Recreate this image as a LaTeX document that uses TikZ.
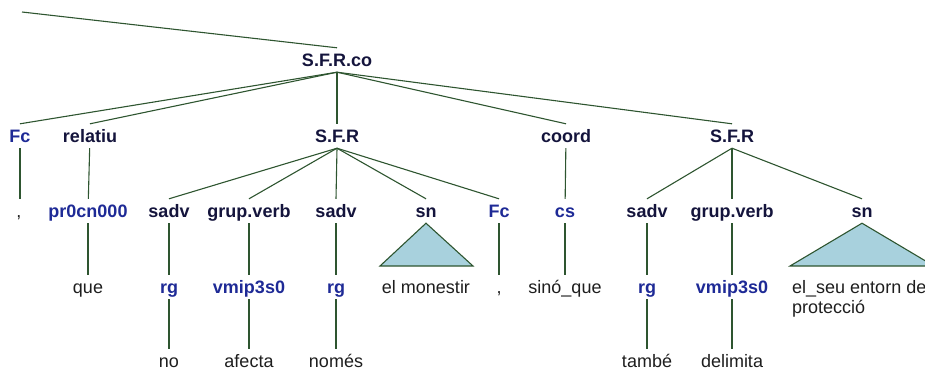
\documentclass[tikz,border=0pt]{standalone}
\usepackage{fontspec}
\setmainfont{Liberation Sans}
\definecolor{ntcol}{HTML}{14143C}
\definecolor{poscol}{HTML}{1E2A96}
\definecolor{wdcol}{HTML}{1E1E1E}
\definecolor{lncol}{HTML}{2E5530}
\definecolor{trifill}{HTML}{A8D1DD}
\begin{document}
\begin{tikzpicture}[x=1pt,y=-1pt,
  lbl/.style={inner xsep=1pt, inner ysep=6pt, text height=12pt, text depth=0pt},
  nt/.style={lbl, text=ntcol, font=\fontsize{18}{20}\selectfont\bfseries},
  postag/.style={lbl, text=poscol, font=\fontsize{18}{20}\selectfont\bfseries},
  wd/.style={lbl, text=wdcol, font=\fontsize{18}{20}\selectfont},
  edge/.style={draw=lncol, line width=1.1pt},
  tri/.style={draw=lncol, line width=1.1pt, fill=trifill, line join=miter}]
\useasboundingbox (0,0) rectangle (925,370);
\clip (0,0) rectangle (925,370);
% level 1
\node[nt] (root) at (337,60) {S.F.R.co};
\coordinate (top) at (22,12);
% level 2
\node[postag] (fc1) at (20,136) {Fc};
\node[nt] (rel) at (90,136) {relatiu};
\node[nt] (sfr1) at (337,136) {S.F.R};
\node[nt] (coord) at (566,136) {coord};
\node[nt] (sfr2) at (732,136) {S.F.R};
% level 3
\node[wd] (comma1) at (19,211) {,};
\node[postag] (pr) at (88,211) {pr0cn000};
\node[nt] (sadv1) at (169,211) {sadv};
\node[nt] (gv1) at (249,211) {grup.verb};
\node[nt] (sadv2) at (336,211) {sadv};
\node[nt] (sn1) at (426,211) {sn};
\node[postag] (fc2) at (499,211) {Fc};
\node[postag] (cs) at (565,211) {cs};
\node[nt] (sadv3) at (647,211) {sadv};
\node[nt] (gv2) at (732,211) {grup.verb};
\node[nt] (sn2) at (862,211) {sn};
% level 4
\node[wd] (que) at (88,287) {que};
\node[postag] (rg1) at (169,287) {rg};
\node[postag] (vm1) at (249,287) {vmip3s0};
\node[postag] (rg2) at (336,287) {rg};
\node[wd] (mon) at (426,287) {el monestir};
\node[wd] (comma2) at (499,287) {,};
\node[wd] (sino) at (565,287) {sinó\_que};
\node[postag] (rg3) at (647,287) {rg};
\node[postag] (vm2) at (732,287) {vmip3s0};
\node[wd, anchor=west] (ent1) at (791,287) {el\_seu entorn de};
\node[wd, anchor=west] (ent2) at (791,307) {protecció};
% level 5
\node[wd] (no) at (169,361) {no};
\node[wd] (afe) at (249,361) {afecta};
\node[wd] (nom) at (336,361) {només};
\node[wd] (tam) at (647,361) {també};
\node[wd] (del) at (732,361) {delimita};
% edges
\draw[edge] (top) -- (root.north);
\foreach \c in {fc1,rel,sfr1,coord,sfr2} \draw[edge] (root.south) -- (\c.north);
\foreach \c in {sadv1,gv1,sadv2,sn1,fc2} \draw[edge] (sfr1.south) -- (\c.north);
\foreach \c in {sadv3,gv2,sn2} \draw[edge] (sfr2.south) -- (\c.north);
\draw[edge] (fc1.south) -- (fc1.south |- comma1.north);
\draw[edge] (rel) -- (pr);
\draw[edge] (coord) -- (cs);
\draw[edge] (pr) -- (que);
\draw[edge] (sadv1) -- (rg1);
\draw[edge] (gv1) -- (vm1);
\draw[edge] (sadv2) -- (rg2);
\draw[edge] (fc2) -- (comma2);
\draw[edge] (cs) -- (sino);
\draw[edge] (sadv3) -- (rg3);
\draw[edge] (gv2) -- (vm2);
\draw[edge] (rg1) -- (no);
\draw[edge] (vm1) -- (afe);
\draw[edge] (rg2) -- (nom);
\draw[edge] (rg3) -- (tam);
\draw[edge] (vm2) -- (del);
% triangles
\coordinate (t1l) at (380,266);
\coordinate (t1r) at (473,266);
\coordinate (t2l) at (790,266);
\coordinate (t2r) at (934,266);
\draw[tri] (sn1.south) -- (t1l) -- (t1r) -- cycle;
\draw[tri] (sn2.south) -- (t2l) -- (t2r) -- cycle;
\end{tikzpicture}
\end{document}
